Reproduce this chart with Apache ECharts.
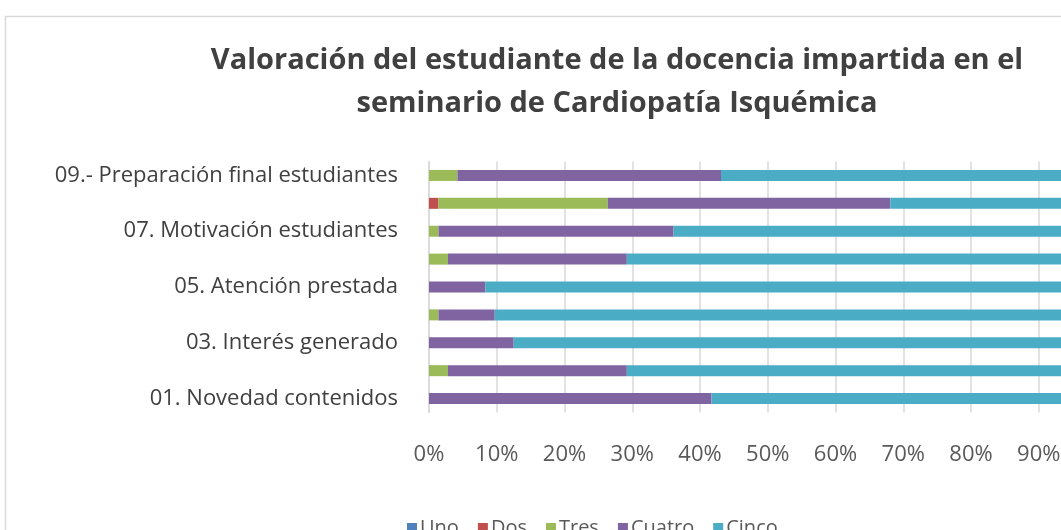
<!DOCTYPE html>
<html>
<head>
<meta charset="utf-8">
<script src="https://cdn.jsdelivr.net/npm/echarts@6/dist/echarts.min.js"></script>
<style>html,body{margin:0;padding:0;background:#fff;overflow:hidden}#c{width:1110px;height:530px}</style>
</head>
<body>
<div id="c"></div>
<script>
const categories = [
  "01. Novedad contenidos",
  "02. Claridad exposición",
  "03. Interés generado",
  "04. Participación estudiantes",
  "05. Atención prestada",
  "06. Utilidad contenidos",
  "07. Motivación estudiantes",
  "08. Dificultad contenidos",
  "09.- Preparación final estudiantes"
];
const seriesNames = ["Uno", "Dos", "Tres", "Cuatro", "Cinco"];
const uno    = [0, 0, 0, 0, 0, 0, 0, 0, 0];
const dos    = [0, 0, 0, 0, 0, 0, 0, 1.4, 0];
const tres   = [0, 2.8, 0, 1.4, 0, 2.8, 1.4, 25.0, 4.2];
const cuatro = [41.7, 26.4, 12.5, 8.3, 8.3, 26.4, 34.7, 41.7, 38.9];
const cinco  = [58.3, 70.8, 87.5, 90.3, 91.7, 70.8, 63.9, 31.9, 56.9];
const xTicks = [0, 10, 20, 30, 40, 50, 60, 70, 80, 90, 100];
const colors = ["#4F81BD", "#C0504D", "#9BBB59", "#8064A2", "#4BACC6"];
const values = [uno, dos, tres, cuatro, cinco];

const chart = echarts.init(document.getElementById('c'), null, { width: 1110, height: 530 });
const font = '"Open Sans", "Noto Sans", sans-serif';
chart.setOption({
  backgroundColor: '#ffffff',
  animation: false,
  color: colors,
  title: {
    text: 'Valoración del estudiante de la docencia impartida en el\nseminario de Cardiopatía Isquémica',
    left: 612,
    top: 34,
    textAlign: 'center',
    textStyle: { fontFamily: font, fontWeight: 'bold', fontSize: 29, lineHeight: 43, color: '#404040' }
  },
  graphic: [{
    type: 'rect', silent: true,
    shape: { x: 5.5, y: 16.5, width: 1200, height: 700 },
    style: { fill: 'none', stroke: '#d9d9d9', lineWidth: 1.5 }
  }],
  legend: {
    data: seriesNames,
    left: 402,
    top: 513,
    itemWidth: 10,
    itemHeight: 10,
    itemGap: 19,
    icon: 'rect',
    textStyle: { fontFamily: font, fontSize: 20, color: '#595959', padding: [0, 0, 0, -2] }
  },
  grid: { left: 429, right: 3.5, top: 161.5, bottom: 117.5, containLabel: false, outerBoundsMode: 'none' },
  xAxis: {
    type: 'value',
    min: xTicks[0],
    max: xTicks[xTicks.length - 1],
    interval: 10,
    axisLine: { show: false },
    axisTick: { show: false },
    axisLabel: { formatter: '{value}%', fontFamily: font, fontSize: 22, color: '#595959', margin: 31 },
    splitLine: { lineStyle: { color: '#d9d9d9', width: 1.5 } }
  },
  yAxis: {
    type: 'category',
    data: categories,
    axisLine: { show: true, lineStyle: { color: '#d9d9d9', width: 1.5 } },
    axisTick: { show: false },
    axisLabel: { interval: 1, fontFamily: font, fontSize: 22, color: '#404040', margin: 31 }
  },
  series: seriesNames.map((n, i) => ({
    name: n,
    type: 'bar',
    stack: 'total',
    barWidth: 11,
    data: values[i],
    itemStyle: { color: colors[i] }
  }))
});
</script>
</body>
</html>
